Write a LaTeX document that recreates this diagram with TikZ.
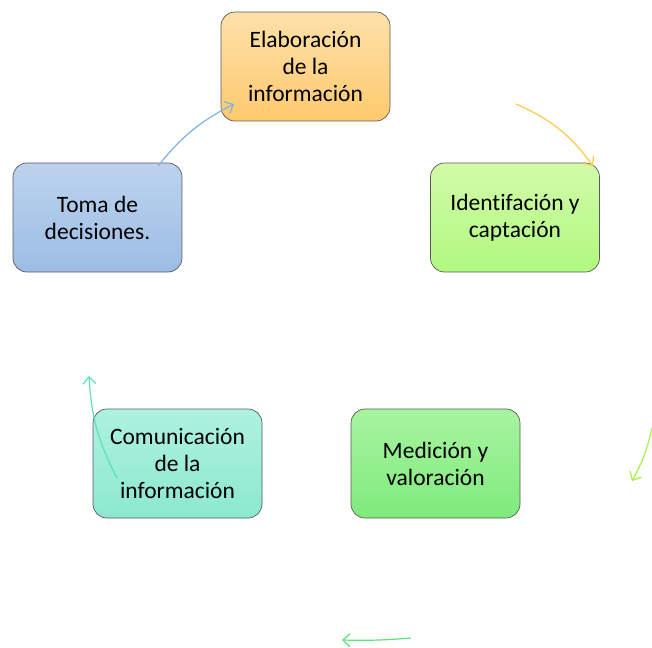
\documentclass[tikz,border=0pt]{standalone}
\usepackage{fontspec}
\setmainfont[Ligatures=NoCommon]{Carlito}
\usepackage{tikz}
\usetikzlibrary{arrows.meta}

\definecolor{naranjaA}{HTML}{FDE0AA}
\definecolor{naranjaB}{HTML}{FFCA6E}
\definecolor{limaA}{HTML}{D2FBA8}
\definecolor{limaB}{HTML}{B0F980}
\definecolor{verdeA}{HTML}{A8F4A0}
\definecolor{verdeB}{HTML}{7FEA7C}
\definecolor{aguaA}{HTML}{AEF2E0}
\definecolor{aguaB}{HTML}{8CE8CF}
\definecolor{azulA}{HTML}{BCD3EE}
\definecolor{azulB}{HTML}{9CBDE4}
\definecolor{flechaA}{HTML}{FFC94A}
\definecolor{flechaB}{HTML}{A8F050}
\definecolor{flechaC}{HTML}{5EE07A}
\definecolor{flechaD}{HTML}{5EE0BC}
\definecolor{flechaE}{HTML}{7DB2E2}

\begin{document}
\begin{tikzpicture}[x=1pt, y=1pt,
	etapa/.style = {shape=rectangle, rounded corners=14pt,
		draw=black!65, line width=0.7pt, align=center,
		minimum width=169pt, minimum height=109pt,
		font=\fontsize{23.5}{27}\selectfont, text=black},
	flecha/.style = {line width=1.2pt, -{Straight Barb[length=7pt, width=13pt]}}]
	\useasboundingbox (0,0) rectangle (652,-647);

	\node[etapa, top color=naranjaA, bottom color=naranjaB] (elab) at (305.5,-66.5) {Elaboración\\de la\\información};
	\node[etapa, top color=limaA, bottom color=limaB] (ident) at (515,-217.5) {Identifación y\\captación};
	\node[etapa, top color=verdeA, bottom color=verdeB] (medic) at (435.5,-463.5) {Medición y\\valoración};
	\node[etapa, top color=aguaA, bottom color=aguaB] (comun) at (177.5,-463.5) {Comunicación\\de la\\información};
	\node[etapa, top color=azulA, bottom color=azulB] (toma) at (97.5,-217.5) {Toma de\\decisiones.};

	% extremos libres de las flechas
	\coordinate (a1) at (516,-104);
	\coordinate (a2) at (593,-166);
	\coordinate (b1) at (652,-428);
	\coordinate (b2) at (632,-481);
	\coordinate (c1) at (411,-638);
	\coordinate (c2) at (342,-640);
	\coordinate (d1) at (117,-478);
	\coordinate (d2) at (89,-376);
	\coordinate (e1) at (158,-166);
	\coordinate (e2) at (234,-104);

	\draw[flecha, color=flechaA] (a1) to[bend left=15] (a2);
	\draw[flecha, color=flechaB] (b1) to[bend left=8] (b2);
	\draw[flecha, color=flechaC] (c1) to[bend left=3] (c2);
	\draw[flecha, color=flechaD] (d1) to[bend left=12] (d2);
	\draw[flecha, color=flechaE] (e1) to[bend left=12] (e2);
\end{tikzpicture}
\end{document}
